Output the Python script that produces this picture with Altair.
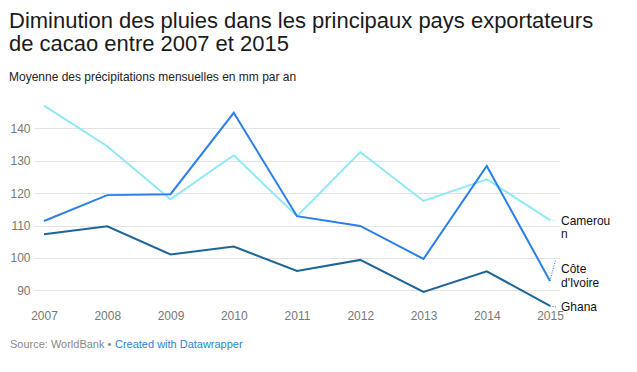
import altair as alt
import pandas as pd

years = [2007, 2008, 2009, 2010, 2011, 2012, 2013, 2014, 2015]
cameroun = [147.0, 134.5, 118.1, 131.7, 112.9, 132.7, 117.6, 124.3, 111.7]
cote_divoire = [111.4, 119.4, 119.7, 144.8, 112.9, 109.9, 99.7, 128.4, 92.9]
ghana = [107.3, 109.8, 101.1, 103.5, 96.0, 99.4, 89.5, 95.9, 85.2]

countries = ["Cameroun", "Côte d'Ivoire", "Ghana"]
colors = ["#8de9f6", "#2a7fe8", "#1c6596"]
label_texts = ["Camerou\nn", "Côte\nd'Ivoire", "Ghana"]
label_y = [110.2, 95.3, 83.6]  # label anchors (first-line baseline), in mm

y_ticks = [90, 100, 110, 120, 130, 140]

FONT = "Liberation Sans"

rows = []
for name, vals in zip(countries, [cameroun, cote_divoire, ghana]):
    for yr, v in zip(years, vals):
        rows.append({"year": yr, "value": v, "country": name})
df = pd.DataFrame(rows)

last_vals = [cameroun[-1], cote_divoire[-1], ghana[-1]]
labels_df = pd.DataFrame({
    "year": [years[-1]] * 3,
    "label_y": label_y,
    "text": label_texts,
    "country": countries,
    "last": last_vals,
    "conn_y": [label_y[0] + 1.3, label_y[1] + 4.2, label_y[2] + 1.3],
    "year2": [years[-1] + 0.09] * 3,
})

xscale = alt.Scale(domain=[years[0], years[-1]], padding=10, nice=False, zero=False)
yscale = alt.Scale(domain=[84, 150], nice=False, zero=False)
cscale = alt.Scale(domain=countries, range=colors)

lines = alt.Chart(df).mark_line(strokeWidth=2).encode(
    x=alt.X("year:Q", scale=xscale,
            axis=alt.Axis(values=years, format="d", title=None, grid=False, domain=False,
                          ticks=False, labelPadding=1, labelFontSize=12, labelColor="#777",
                          labelFont=FONT)),
    y=alt.Y("value:Q", scale=yscale,
            axis=alt.Axis(values=y_ticks, title=None, grid=True, gridColor="#e3e3e3",
                          domain=False, ticks=False, labelPadding=4, labelFontSize=12,
                          labelColor="#777", labelFont=FONT)),
    color=alt.Color("country:N", scale=cscale, legend=None),
    detail="country:N",
)

connectors = alt.Chart(labels_df).mark_rule(strokeWidth=1, strokeDash=[1, 1.5]).encode(
    x=alt.X("year:Q", scale=xscale),
    x2="year2:Q",
    y=alt.Y("last:Q", scale=yscale),
    y2="conn_y:Q",
    color=alt.Color("country:N", scale=cscale, legend=None),
)

end_labels = alt.Chart(labels_df).mark_text(
    align="left", baseline="alphabetic", dx=11, fontSize=12, font=FONT,
    color="#111", lineBreak="\n", lineHeight=13.5,
).encode(
    x=alt.X("year:Q", scale=xscale),
    y=alt.Y("label_y:Q", scale=yscale),
    text="text:N",
)

footer_src = alt.Chart(pd.DataFrame({"t": ["Source: WorldBank • "]})).mark_text(
    align="left", baseline="middle", fontSize=11, font=FONT, color="#888",
).encode(x=alt.value(-24), y=alt.value(249), text="t:N")

footer_dw = alt.Chart(pd.DataFrame({"t": ["Created with Datawrapper"]})).mark_text(
    align="left", baseline="middle", fontSize=11, font=FONT, color="#2d84d4",
).encode(x=alt.value(81), y=alt.value(249), text="t:N")

chart = alt.layer(lines, connectors, end_labels, footer_src, footer_dw).properties(
    width=526,
    height=213.8,
    autosize=alt.AutoSizeParams(type="none"),
    padding={"left": 26, "top": 88, "right": 69, "bottom": 54},
    title=alt.TitleParams(
        text=["Diminution des pluies dans les principaux pays exportateurs",
              "de cacao entre 2007 et 2015"],
        subtitle="Moyenne des précipitations mensuelles en mm par an",
        anchor="start", frame="group", dx=-25, offset=12,
        font=FONT, fontSize=22, fontWeight="normal", color="#1a1a1a", lineHeight=23,
        subtitleFont=FONT, subtitleFontSize=12, subtitleColor="#222",
        subtitlePadding=16,
    ),
).configure(background="white").configure_view(stroke=None)

chart.save("out.html", embed_options={"renderer": "svg", "actions": False})
